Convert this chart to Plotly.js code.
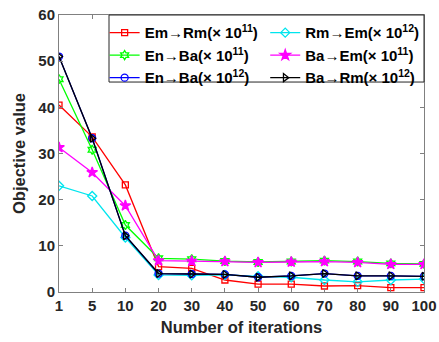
<!DOCTYPE html>
<html><head><meta charset="utf-8">
<script src="https://cdn.plot.ly/plotly-3.0.1.min.js"></script>
<style>html,body{margin:0;padding:0;background:#fff}#chart{width:439px;height:342px}</style>
</head><body><div id="chart"></div>
<script>
const iterations = ['1','5','10','20','30','40','50','60','70','80','90','100'];
const emRm11 = [40.5, 33.6, 23.2, 5.5, 5.1, 2.6, 1.7, 1.7, 1.3, 1.4, 0.95, 0.95];
const rmEm12 = [23.0, 20.8, 11.8, 3.7, 3.6, 3.7, 3.4, 3.2, 2.6, 2.2, 2.6, 2.8];
const enBa11 = [46.1, 30.8, 14.5, 7.3, 7.1, 6.7, 6.5, 6.6, 6.8, 6.6, 6.2, 6.1];
const baEm11 = [31.3, 25.9, 18.7, 6.8, 6.7, 6.6, 6.4, 6.5, 6.6, 6.4, 6.0, 6.0];
const enBa12 = [51.0, 33.3, 12.2, 4.0, 3.9, 3.8, 3.2, 3.5, 4.0, 3.5, 3.5, 3.4];
const baRm12 = [51.0, 33.3, 12.2, 4.0, 3.9, 3.8, 3.2, 3.5, 4.0, 3.5, 3.5, 3.4];
const names = ['Em\u2192Rm(\u00d7 10<sup>11</sup>)','Rm\u2192Em(\u00d7 10<sup>12</sup>)',
  'En\u2192Ba(\u00d7 10<sup>11</sup>)','Ba\u2192Em(\u00d7 10<sup>11</sup>)',
  'En\u2192Ba(\u00d7 10<sup>12</sup>)','Ba\u2192Rm(\u00d7 10<sup>12</sup>)'];
const series = [emRm11, rmEm12, enBa11, baEm11, enBa12, baRm12];
const colors = ['#ff0000','#00e5ee','#00ff00','#ff00ff','#0000ff','#000000'];
const symbols = ['square-open','diamond-open','hexagram-open','star','circle-open','triangle-right-open'];
const sizes = [6,7,7,8,7,7];
const legendOf = ['legend','legend2','legend','legend2','legend','legend2'];
const traces = series.map((s,i)=>({
  x: iterations, y: s, type:'scatter', mode:'lines+markers', name: names[i],
  legend: legendOf[i],
  line:{color:colors[i], width:1.3},
  marker:{symbol:symbols[i], size:sizes[i], color:colors[i], line:{color:colors[i], width:1.3}}
}));
const lfont = {family:'Liberation Sans, Arial, sans-serif', size:15, color:'#000', weight:'bold'};
const legBase = {orientation:'v', y:0.995, yanchor:'top', xanchor:'left',
  bgcolor:'rgba(0,0,0,0)', borderwidth:0, tracegroupgap:0, itemwidth:30, font:lfont};
const layout = {
  width:439, height:342,
  margin:{l:59, r:15, t:15, b:50},
  paper_bgcolor:'#fff', plot_bgcolor:'#fff',
  font:{family:'Liberation Sans, Arial, sans-serif', size:14, color:'#262626', weight:'bold'},
  showlegend:true,
  legend: Object.assign({}, legBase, {x:0.125}),
  legend2: Object.assign({}, legBase, {x:0.565}),
  shapes:[{type:'rect', xref:'paper', yref:'paper', x0:0.137, x1:1, y0:0.758, y1:1,
    line:{color:'#262626', width:1}, fillcolor:'#fff', layer:'above'}],
  xaxis:{type:'category', range:[0,11], showgrid:false, zeroline:false,
    showline:true, linecolor:'#808080', linewidth:1, mirror:'ticks',
    ticks:'inside', ticklen:4, tickcolor:'#808080',
    tickfont:{size:15, weight:'bold', color:'#262626'},
    title:{text:'Number of iterations', font:{size:16.5, weight:'bold', color:'#262626'}, standoff:8}},
  yaxis:{range:[0,60], dtick:10, showgrid:false, zeroline:false,
    showline:true, linecolor:'#808080', linewidth:1, mirror:'ticks',
    ticks:'inside', ticklen:4, tickcolor:'#808080',
    tickfont:{size:15, weight:'bold', color:'#262626'},
    title:{text:'Objective value', font:{size:16.5, weight:'bold', color:'#262626'}, standoff:8}}
};
Plotly.newPlot('chart', traces, layout, {displayModeBar:false, staticPlot:true});
</script></body></html>
